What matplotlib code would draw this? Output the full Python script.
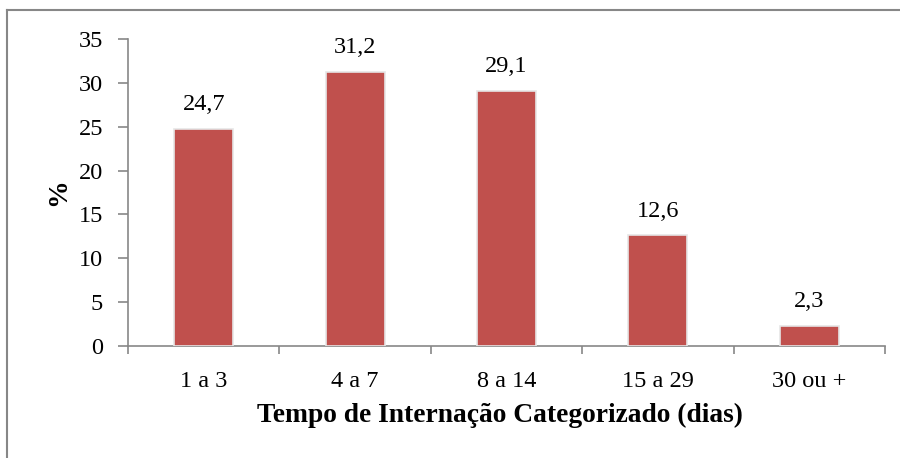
import matplotlib
matplotlib.use("Agg")
import matplotlib.pyplot as plt
from matplotlib.lines import Line2D

categories = ["1 a 3", "4 a 7", "8 a 14", "15 a 29", "30 ou +"]
values = [24.7, 31.2, 29.1, 12.6, 2.3]
value_labels = ["24,7", "31,2", "29,1", "12,6", "2,3"]
yticks = [0, 5, 10, 15, 20, 25, 30, 35]

plt.rcParams['font.family'] = ['Liberation Serif', 'DejaVu Serif']

fig = plt.figure(figsize=(9, 4.58), dpi=100)
ax = fig.add_axes([128/900, 1-346/458, (885-128)/900, (346-39)/458])

x = list(range(len(categories)))
ax.bar(x, values, width=0.39, color="#C0504D", edgecolor="#E6E6E6", linewidth=1.2, zorder=3)
for xi, v, lab in zip(x, values, value_labels):
    ax.annotate(lab, (xi, v), xytext=(0, 10), textcoords="offset points",
                ha="center", va="bottom", fontsize=17.5)

ax.set_xlim(-0.5, len(categories) - 0.5)
ax.set_ylim(0, 35)
ax.set_yticks(yticks)
ax.set_yticklabels([str(t) for t in yticks], fontsize=17.5)
ax.set_xticks(x)
ax.set_xticklabels(categories, fontsize=17.5)
ax.tick_params(axis="x", length=0, pad=18)
ax.set_xticks([i - 0.5 for i in range(len(categories) + 1)], minor=True)
ax.tick_params(axis="x", which="minor", length=6, color="#878787", width=1.2)
ax.tick_params(axis="y", length=7, color="#878787", width=1.2, pad=11)

for s in ["top", "right"]:
    ax.spines[s].set_visible(False)
for s in ["left", "bottom"]:
    ax.spines[s].set_color("#878787")
    ax.spines[s].set_linewidth(1.2)

ax.set_xlabel("Tempo de Internação Categorizado (dias)", fontsize=19.8, fontweight="bold")
ax.xaxis.set_label_coords((500 - 128) / 757, -(415 - 346) / 307)
ax.xaxis.label.set_va("center")
ax.set_ylabel("%", fontsize=20, fontweight="bold", labelpad=5)

# figure border (left and top visible)
fig.add_artist(Line2D([6.5/900, 6.5/900], [0, 1-9.5/458], transform=fig.transFigure, color="#878787", lw=1.5))
fig.add_artist(Line2D([6.5/900, 1], [1-9.5/458, 1-9.5/458], transform=fig.transFigure, color="#878787", lw=1.5))

fig.savefig("out.png", dpi=100)
